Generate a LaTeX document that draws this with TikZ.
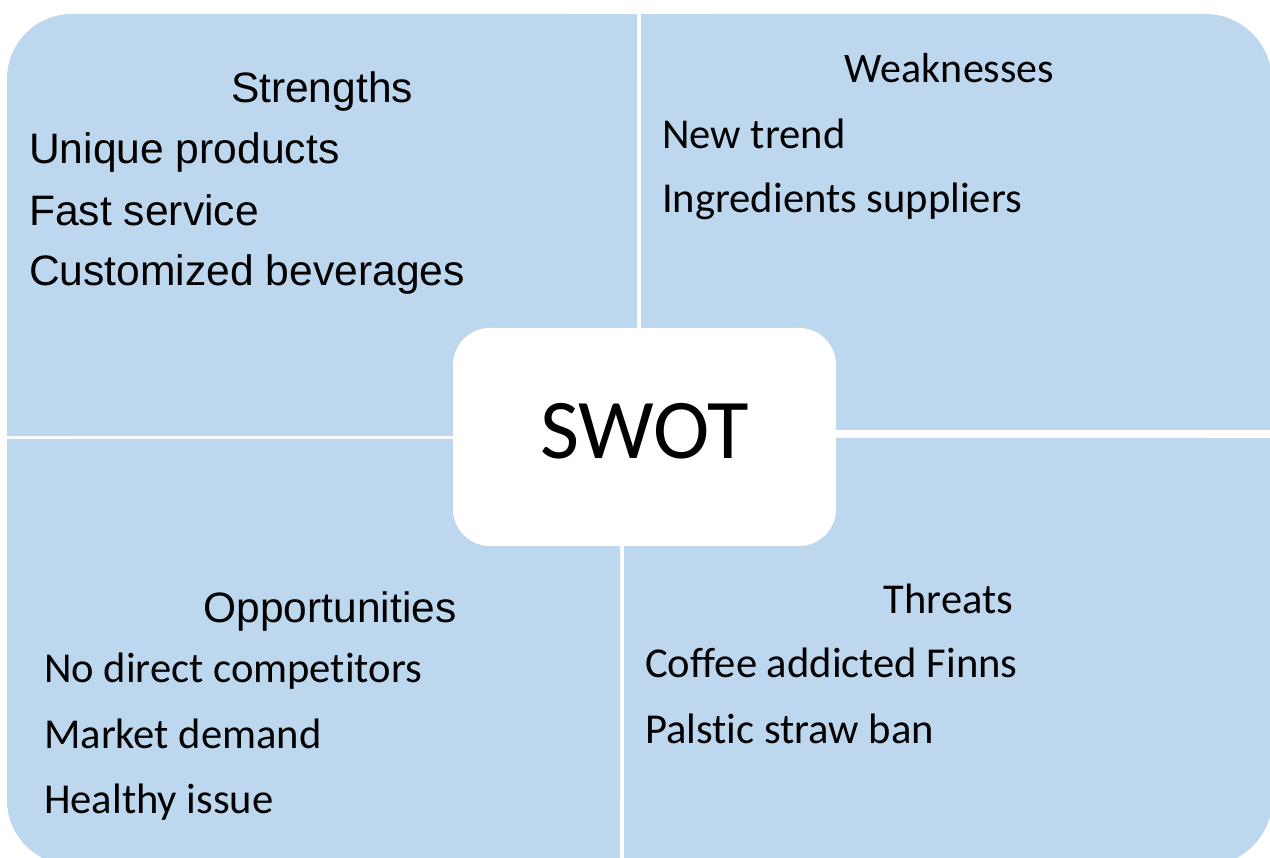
\documentclass[tikz,border=0pt]{standalone}
\usepackage{fontspec}
\setmainfont{Liberation Sans}
\newfontfamily\carlito[Ligatures={NoCommon,NoContextual},RawFeature={-liga;-clig;-calt}]{Carlito}
\definecolor{quadblue}{HTML}{BDD7EE}
\tikzset{
  quad/.style={fill=quadblue},
  arialhead/.style={inner sep=0pt, anchor=base, font=\fontsize{42.5}{50}\selectfont},
  arialitem/.style={inner sep=0pt, anchor=base west, font=\fontsize{42.6}{50}\selectfont},
  calhead/.style={inner sep=0pt, anchor=base, font=\carlito\fontsize{42}{50}\selectfont},
  calitem/.style={inner sep=0pt, anchor=base west, font=\carlito\fontsize{42.6}{50}\selectfont},
  centerbox/.style={fill=white, rounded corners=37pt}
}
\begin{document}
\begin{tikzpicture}[x=1pt,y=-1pt]
  \useasboundingbox (0,0) rectangle (1270,858);
  \clip (0,0) rectangle (1270,858);
  \fill[white] (0,0) rectangle (1270,858);

  % Strengths quadrant (outer corner rounded)
  \fill[quad, rounded corners=65pt] (7,14) rectangle (637,436);
  \fill[quad] (100,14) rectangle (637,436);
  \fill[quad] (7,100) rectangle (637,436);

  % Weaknesses quadrant
  \fill[quad, rounded corners=67pt] (641,14) rectangle (1272,430);
  \fill[quad] (641,14) rectangle (1150,430);
  \fill[quad] (641,100) rectangle (1272,430);

  % Opportunities quadrant
  \fill[quad, rounded corners=65pt] (7,439) rectangle (620,865);
  \fill[quad] (7,439) rectangle (620,780);
  \fill[quad] (100,439) rectangle (620,865);

  % Threats quadrant
  \fill[quad, rounded corners=65pt] (624,438) rectangle (1272,865);
  \fill[quad] (624,438) rectangle (1272,780);
  \fill[quad] (624,438) rectangle (1150,865);

  % Central box
  \fill[centerbox] (453,328) rectangle (836,546);
  \node[inner sep=0pt, anchor=base, font=\carlito\fontsize{85}{98}\selectfont] (swot) at (644.5,459) {SWOT};

  % Strengths
  \node[arialhead] (shead) at (322,103) {Strengths};
  \node[arialitem] (s1) at (29,164) {Unique products};
  \node[arialitem] (s2) at (29,226) {Fast service};
  \node[arialitem] (s3) at (29,286) {Customized beverages};

  % Weaknesses
  \node[calhead] (whead) at (949.5,83) {Weaknesses};
  \node[calitem] (w1) at (662,149) {New trend};
  \node[calitem] (w2) at (662,213) {Ingredients suppliers};

  % Opportunities
  \node[arialhead] (ohead) at (330,622) {Opportunities};
  \node[calitem] (o1) at (44,682) {No direct competitors};
  \node[calitem] (o2) at (44,748) {Market demand};
  \node[calitem] (o3) at (44,813) {Healthy issue};

  % Threats
  \node[calhead, font=\carlito\fontsize{42.5}{50}\selectfont] (thead) at (948.5,613) {Threats};
  \node[calitem] (t1) at (645,677) {Coffee addicted Finns};
  \node[calitem] (t2) at (645,743) {Palstic straw ban};
\end{tikzpicture}
\end{document}
